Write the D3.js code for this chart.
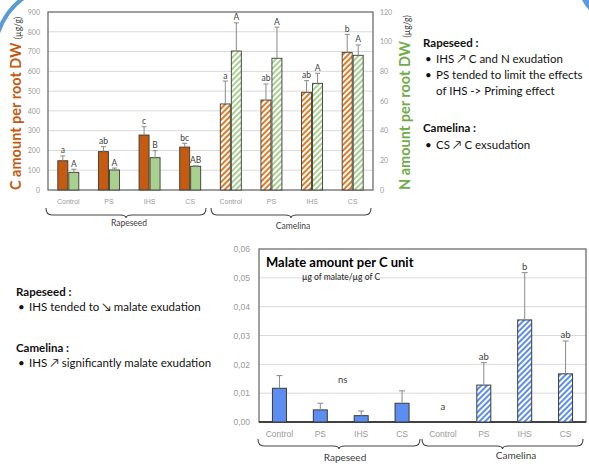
<!DOCTYPE html>
<html><head><meta charset="utf-8">
<script src="https://cdn.jsdelivr.net/npm/d3@7"></script>
<style>
html,body{margin:0;padding:0;background:#fff;}
svg{display:block;font-family:Lato,"Open Sans",sans-serif;}
</style></head>
<body>
<svg id="chart" width="589" height="466"></svg>
<script>
// ---------- DATA ----------
const groups = ["Rapeseed", "Camelina"];
const treatments = ["Control", "PS", "IHS", "CS"];
const cTicks = [0,100,200,300,400,500,600,700,800,900];
const nTicks = [0,20,40,60,80,100,120];
const malTicks = ["0,00","0,01","0,02","0,03","0,04","0,05","0,06"];
const cValues = [148, 194, 278, 217, 435, 455, 494, 696];
const cSD     = [24, 25, 42, 19, 116, 81, 59, 91];
const cLetters = ["a","ab","c","bc","a","ab","ab","b"];
const nValues = [11.9, 13.5, 21.8, 16.0, 93.7, 88.8, 71.9, 90.8];
const nSD     = [2.1, 1.3, 4.7, 0.3, 19.0, 21.0, 6.8, 7.0];
const nLetters = ["A","A","B","AB","A","A","A","A"];
const malate   = [0.0117, 0.0042, 0.0022, 0.0065, 0, 0.0128, 0.0354, 0.0167];
const malateSD = [0.0044, 0.0023, 0.0016, 0.0043, 0, 0.0078, 0.0164, 0.0114];
const malLetters = ["","","","","a","ab","b","ab"];
const malGroupLetter = ["ns", ""];

const cats = [];
groups.forEach((g,gi)=>treatments.forEach((t,ti)=>cats.push({g,gi,t,i:gi*4+ti})));

const svg = d3.select("#chart");
const defs = svg.append("defs");
function hatch(id, color){
  const p = defs.append("pattern").attr("id",id).attr("patternUnits","userSpaceOnUse")
    .attr("width",4).attr("height",4).attr("patternTransform","rotate(45)");
  p.append("rect").attr("width",4).attr("height",4).attr("fill","#fff");
  p.append("rect").attr("width",2).attr("height",4).attr("fill",color);
}
hatch("hOr","#E07B24");
hatch("hGr","#A9D18E");
hatch("hBl","#5B8EF0");

// decorative corner arcs
svg.append("path").attr("d","M -3 36 Q 5 10 25 -3").attr("fill","none")
  .attr("stroke","#5B9BD5").attr("stroke-width",4);
svg.append("path").attr("d","M 582 0 L 589 0 L 589 10 Q 585 6 582 0 Z").attr("fill","#5B9BD5");

const gridCol = "#d9d9d9", frameCol = "#6d6d6d", tickCol = "#9a9a9a", errCol = "#8a8a8a", txtCol = "#404040";

function brace(x0, x1, y0){
  const m = (x0+x1)/2, h = 7, q = 6;
  return `M ${x0} ${y0} Q ${x0} ${y0+h} ${x0+q} ${y0+h} L ${m-q} ${y0+h} Q ${m} ${y0+h} ${m} ${y0+h+3} Q ${m} ${y0+h} ${m+q} ${y0+h} L ${x1-q} ${y0+h} Q ${x1} ${y0+h} ${x1} ${y0}`;
}

// ---------- TOP CHART ----------
{
  const L=48, R=373, T=12, B=190;
  const x = d3.scaleBand().domain(cats.map(d=>d.i)).range([L,R]);
  const yC = d3.scaleLinear().domain([0,900]).range([B,T]);
  const yN = d3.scaleLinear().domain([0,120]).range([B,T]);
  const g = svg.append("g");
  g.selectAll("line.grid").data(cTicks.slice(1,-1)).join("line")
    .attr("x1",L).attr("x2",R).attr("y1",d=>yC(d)).attr("y2",d=>yC(d))
    .attr("stroke",gridCol).attr("stroke-width",1);
  g.append("rect").attr("x",L).attr("y",T).attr("width",R-L).attr("height",B-T)
    .attr("fill","none").attr("stroke",frameCol).attr("stroke-width",1.3);
  // axes
  const axL = d3.axisLeft(yC).tickValues(cTicks).tickSize(0).tickPadding(8);
  const gl = g.append("g").attr("transform",`translate(${L},0)`).call(axL);
  const axR = d3.axisRight(yN).tickValues(nTicks).tickSize(0).tickPadding(7);
  const gr = g.append("g").attr("transform",`translate(${R},0)`).call(axR);
  [gl,gr].forEach(a=>{a.select(".domain").remove();
    a.selectAll("text").attr("fill",tickCol).style("font-size","7px").style("font-family","Lato");});
  const axB = d3.axisBottom(x).tickFormat(i=>cats[i].t).tickSize(0).tickPadding(9);
  const gb = g.append("g").attr("transform",`translate(0,${B})`).call(axB);
  gb.select(".domain").remove();
  gb.selectAll("text").attr("fill",tickCol).style("font-size","7px");
  // bars
  const bw = 10;
  const cx = i => x(i)+x.bandwidth()/2;
  g.selectAll("rect.c").data(cats).join("rect")
    .attr("x",d=>cx(d.i)-bw-0.5).attr("width",bw)
    .attr("y",d=>yC(cValues[d.i])).attr("height",d=>B-yC(cValues[d.i]))
    .attr("fill",d=>d.gi===0?"#C55A11":"url(#hOr)").attr("stroke","#3a3a3a").attr("stroke-width",0.9);
  g.selectAll("rect.n").data(cats).join("rect")
    .attr("x",d=>cx(d.i)+0.5).attr("width",bw)
    .attr("y",d=>yN(nValues[d.i])).attr("height",d=>B-yN(nValues[d.i]))
    .attr("fill",d=>d.gi===0?"#A9D18E":"url(#hGr)").attr("stroke","#3a3a3a").attr("stroke-width",0.9);
  // error bars + letters
  function err(xc, yTop, yVal){
    g.append("line").attr("x1",xc).attr("x2",xc).attr("y1",yVal).attr("y2",yTop).attr("stroke",errCol).attr("stroke-width",1);
    g.append("line").attr("x1",xc-2.5).attr("x2",xc+2.5).attr("y1",yTop).attr("y2",yTop).attr("stroke",errCol).attr("stroke-width",1);
  }
  cats.forEach(d=>{
    const xc1 = cx(d.i)-bw/2-0.5, xc2 = cx(d.i)+bw/2+0.5;
    const t1 = yC(cValues[d.i]+cSD[d.i]), t2 = yN(nValues[d.i]+nSD[d.i]);
    err(xc1, t1, yC(cValues[d.i]));
    err(xc2, t2, yN(nValues[d.i]));
    g.append("text").attr("x",xc1).attr("y",t1-2.5).attr("text-anchor","middle")
      .attr("fill",txtCol).style("font-size","8.5px").text(cLetters[d.i]);
    g.append("text").attr("x",xc2).attr("y",t2-2.5).attr("text-anchor","middle")
      .attr("fill",txtCol).style("font-size","8.5px").text(nLetters[d.i]);
  });
  // braces
  [[46,206,129],[211,371,293]].forEach((b,gi)=>{
    g.append("path").attr("d",brace(b[0],b[1],208)).attr("fill","none").attr("stroke","#444").attr("stroke-width",1.1);
    g.append("text").attr("x",b[2]).attr("y",gi===0?226:229).attr("text-anchor","middle")
      .attr("fill",txtCol).style("font-size","8.5px").text(groups[gi]);
  });
  // axis titles
  const lt = g.append("text").attr("transform","translate(21,190) rotate(-90)").attr("text-anchor","start");
  lt.append("tspan").attr("fill","#C55A11").style("font-size","14.5px").style("font-weight","bold").text("C amount per root DW ");
  lt.append("tspan").attr("fill","#404040").style("font-size","8.5px").text("(µg/g)");
  const rt = g.append("text").attr("transform","translate(410,190) rotate(-90)").attr("text-anchor","start");
  rt.append("tspan").attr("fill","#70AD47").style("font-size","14.5px").style("font-weight","bold").text("N amount per root DW ");
  rt.append("tspan").attr("fill","#404040").style("font-size","8.5px").text("(µg/g)");
}

// ---------- BOTTOM CHART ----------
{
  const L=259, R=586, T=249, B=422;
  const x = d3.scaleBand().domain(cats.map(d=>d.i)).range([L,R]);
  const y = d3.scaleLinear().domain([0,0.06]).range([B,T]);
  const g = svg.append("g");
  const tv = malTicks.map(s=>+s.replace(",","."));
  g.selectAll("line.grid").data(tv.slice(1,-1)).join("line")
    .attr("x1",L).attr("x2",R).attr("y1",d=>y(d)).attr("y2",d=>y(d))
    .attr("stroke",gridCol).attr("stroke-width",1);
  g.append("rect").attr("x",L).attr("y",T).attr("width",R-L).attr("height",B-T)
    .attr("fill","none").attr("stroke",frameCol).attr("stroke-width",1.3);
  g.append("line").attr("x1",L).attr("x2",R).attr("y1",B).attr("y2",B).attr("stroke","#222").attr("stroke-width",1.3);
  const axL = d3.axisLeft(y).tickValues(tv).tickFormat((d,i)=>malTicks[i]).tickSize(0).tickPadding(9);
  const gl = g.append("g").attr("transform",`translate(${L},0)`).call(axL);
  gl.select(".domain").remove();
  gl.selectAll("text").attr("fill",tickCol).style("font-size","8.5px");
  const axB = d3.axisBottom(x).tickFormat(i=>cats[i].t).tickSize(0).tickPadding(9);
  const gb = g.append("g").attr("transform",`translate(0,${B})`).call(axB);
  gb.select(".domain").remove();
  gb.selectAll("text").attr("fill",tickCol).style("font-size","8.5px");
  const bw = 14;
  const cx = i => x(i)+x.bandwidth()/2;
  g.selectAll("rect.m").data(cats.filter(d=>malate[d.i]>0)).join("rect")
    .attr("x",d=>cx(d.i)-bw/2).attr("width",bw)
    .attr("y",d=>y(malate[d.i])).attr("height",d=>B-y(malate[d.i]))
    .attr("fill",d=>d.gi===0?"#5B8EF0":"url(#hBl)").attr("stroke","#3a3a3a").attr("stroke-width",1);
  cats.forEach(d=>{
    const xc = cx(d.i);
    const yt = y(malate[d.i]+malateSD[d.i]);
    if (malate[d.i]>0){
      g.append("line").attr("x1",xc).attr("x2",xc).attr("y1",y(malate[d.i])).attr("y2",yt).attr("stroke",errCol);
      g.append("line").attr("x1",xc-3).attr("x2",xc+3).attr("y1",yt).attr("y2",yt).attr("stroke",errCol);
    }
    if (malLetters[d.i]){
      const ly = malate[d.i]>0 ? yt-3 : B-12;
      g.append("text").attr("x",xc).attr("y",ly).attr("text-anchor","middle")
        .attr("fill",txtCol).style("font-size","9.5px").text(malLetters[d.i]);
    }
  });
  g.append("text").attr("x",(cx(0)+cx(3))/2+2).attr("y",383).attr("text-anchor","middle")
    .attr("fill",txtCol).style("font-size","9.5px").text(malGroupLetter[0]);
  g.append("text").attr("x",266).attr("y",267).attr("fill","#000").style("font-size","13px").style("font-weight","bold")
    .text("Malate amount per C unit");
  g.append("text").attr("x",302).attr("y",280).attr("fill","#222").style("font-size","8.5px")
    .text("µg of malate/µg of C");
  [[258,420,345,458],[422,583,516,456]].forEach((b,gi)=>{
    g.append("path").attr("d",brace(b[0],b[1],439)).attr("fill","none").attr("stroke","#444").attr("stroke-width",1.1);
    g.append("text").attr("x",b[2]).attr("y",b[3]+3).attr("text-anchor","middle")
      .attr("fill",txtCol).style("font-size","10px").text(groups[gi]);
  });
}

// ---------- SIDE TEXT ----------
function block(x0, lines){
  lines.forEach(l=>{
    if (l.bold){
      svg.append("text").attr("x",x0).attr("y",l.y).attr("fill","#111").style("font-size","11.5px").style("font-weight","bold").text(l.s);
    } else {
      if (l.bullet) svg.append("text").attr("x",x0+2).attr("y",l.y).attr("fill","#111").style("font-size","11.5px").text("•");
      svg.append("text").attr("x",x0+13).attr("y",l.y).attr("fill","#111").style("font-size","11.5px").text(l.s);
    }
  });
}
block(423, [
  {y:47, s:"Rapeseed :", bold:true},
  {y:63, s:"IHS \u2197 C and N exudation", bullet:true},
  {y:79, s:"PS tended to limit the effects", bullet:true},
  {y:95, s:"of IHS -> Priming effect"},
  {y:132, s:"Camelina :", bold:true},
  {y:149, s:"CS \u2197 C exsudation", bullet:true}
]);
block(16, [
  {y:296, s:"Rapeseed :", bold:true},
  {y:311, s:"IHS tended to \u2198 malate exudation", bullet:true},
  {y:352, s:"Camelina :", bold:true},
  {y:367, s:"IHS \u2197 significantly malate exudation", bullet:true}
]);
</script>
</body></html>
